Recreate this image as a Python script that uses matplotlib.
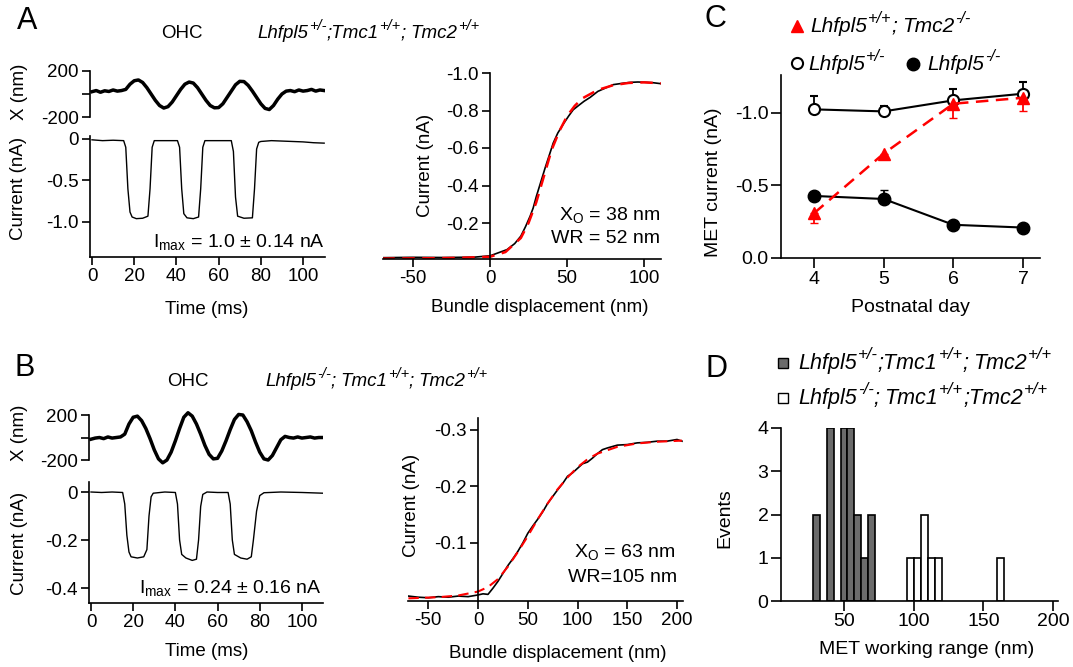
import matplotlib
matplotlib.use('Agg')
import matplotlib.pyplot as plt

plt.rcParams['font.family'] = ['Liberation Sans', 'DejaVu Sans']
plt.rcParams['axes.unicode_minus'] = False
plt.rcParams['mathtext.fontset'] = 'custom'
plt.rcParams['mathtext.rm'] = 'Liberation Sans'
plt.rcParams['mathtext.it'] = 'Liberation Sans:italic'
plt.rcParams['mathtext.default'] = 'rm'

# ---------------- data ----------------
# A: bundle displacement trace (nm) and MET current (nA) vs time (ms)
t_x = list(range(0, 112, 2))
a_x = [20, 30, 15, 28, 22, 35, 25, 30, 40, 85, 115, 122, 100, 55, 0, -55, -100, -122,
       -110, -70, -15, 40, 85, 104, 95, 55, 0, -55, -100, -120, -118, -85, -30, 25, 80,
       110, 108, 75, 25, -30, -85, -125, -135, -100, -45, 0, 25, 30, 20, 35, 25, 30, 40,
       25, 35, 30]
a_t_i = [0, 5, 10, 15, 16, 17, 18, 19, 21, 24, 26.5, 27.5, 28.5, 29.5, 35, 40.5, 41.5,
         42.5, 43.5, 45, 48, 50.5, 51.5, 52.5, 53.5, 60, 66, 67, 68, 69, 72, 76, 77, 78,
         79, 80, 85, 90, 95, 100, 105, 110]
a_i = [-0.01, -0.02, -0.015, -0.02, -0.1, -0.6, -0.88, -0.94, -0.96, -0.955, -0.93, -0.6,
       -0.1, -0.02, -0.02, -0.02, -0.1, -0.6, -0.9, -0.95, -0.96, -0.94, -0.6, -0.1, -0.02,
       -0.02, -0.02, -0.15, -0.7, -0.93, -0.955, -0.95, -0.6, -0.12, -0.04, -0.03, -0.02,
       -0.025, -0.03, -0.035, -0.045, -0.05]

# A: current-displacement relation and fit
a_disp = [-70, -50, -30, -10, 0, 5, 11, 16, 20, 23, 26, 28, 30, 33, 36, 39, 41, 44, 48,
          51, 54, 58, 61, 65, 70, 75, 80, 86, 91, 96, 102, 106, 111]
a_cur = [-0.015, -0.017, -0.016, -0.018, -0.025, -0.04, -0.058, -0.09, -0.13, -0.18,
         -0.236, -0.28, -0.34, -0.42, -0.5, -0.575, -0.626, -0.68, -0.733, -0.77, -0.804,
         -0.83, -0.849, -0.87, -0.902, -0.92, -0.938, -0.945, -0.95, -0.952, -0.95,
         -0.948, -0.943]
a_fit_x = [-70, -40, -20, 0, 10, 20, 25, 30, 35, 40, 45, 50, 55, 60, 70, 80, 90, 100, 111]
a_fit_y = [-0.01, -0.012, -0.014, -0.02, -0.045, -0.12, -0.2, -0.31, -0.45, -0.59, -0.69,
           -0.77, -0.825, -0.865, -0.91, -0.935, -0.947, -0.95, -0.945]

# B: bundle displacement trace and MET current vs time
b_x = [-15, -5, 0, -10, 5, -5, 0, 5, 30, 120, 180, 190, 150, 80, -10, -110, -190, -225,
       -200, -130, -30, 80, 180, 220, 190, 120, 30, -70, -150, -190, -185, -120, -30, 70,
       160, 205, 200, 140, 60, -40, -130, -190, -200, -160, -90, -20, 10, 0, -5, 5, -5, 0,
       5, -5, 0, 0]
b_t_i = [0, 5, 10, 15, 16, 17, 18, 19, 22, 25, 26.5, 27.5, 28.5, 29.5, 35, 40, 41, 42,
         43, 45, 48, 50, 51, 52, 53, 55, 60, 65, 66, 67, 68, 71, 74, 76, 77, 78.5, 80, 82,
         90, 100, 110]
b_i = [0.0, -0.002, 0.0, -0.002, -0.05, -0.18, -0.25, -0.27, -0.275, -0.27, -0.24, -0.1,
       -0.02, -0.005, 0.0, -0.002, -0.05, -0.2, -0.26, -0.275, -0.285, -0.28, -0.2, -0.06,
       -0.01, 0.0, -0.002, -0.002, -0.05, -0.2, -0.26, -0.275, -0.28, -0.27, -0.2, -0.08,
       -0.015, -0.003, 0.0, -0.002, -0.005]

# B: current-displacement relation and fit
b_disp = [-70, -60, -50, -40, -30, -20, -10, 0, 5, 10, 15, 20, 25, 30, 35, 40, 45, 50, 55,
          60, 65, 70, 75, 80, 85, 90, 95, 100, 105, 110, 115, 120, 125, 130, 140, 150, 160,
          170, 180, 190, 200, 205]
b_cur = [-0.006, -0.004, -0.003, -0.005, -0.004, -0.006, -0.005, -0.008, -0.01, -0.009,
         -0.02, -0.032, -0.046, -0.06, -0.072, -0.085, -0.1, -0.117, -0.13, -0.142, -0.155,
         -0.17, -0.182, -0.194, -0.205, -0.218, -0.224, -0.232, -0.24, -0.243, -0.25,
         -0.258, -0.265, -0.268, -0.273, -0.274, -0.277, -0.278, -0.28, -0.28, -0.283, -0.28]
b_fit_x = [-70, -40, -20, 0, 10, 20, 30, 40, 50, 60, 70, 80, 90, 100, 110, 120, 140, 160,
           180, 205]
b_fit_y = [-0.002, -0.004, -0.007, -0.014, -0.022, -0.036, -0.058, -0.084, -0.112, -0.142,
           -0.17, -0.195, -0.216, -0.234, -0.248, -0.258, -0.27, -0.276, -0.279, -0.281]

# C: MET current vs postnatal day
days = [4, 5, 6, 7]
het = [-1.025, -1.011, -1.087, -1.133]
het_err = [0.09, 0.04, 0.08, 0.08]
ko = [-0.428, -0.407, -0.229, -0.21]
ko_err = [0.02, 0.06, 0.02, 0.02]
tmc2ko = [-0.309, -0.72, -1.064, -1.105]
tmc2ko_err = [0.07, 0.03, 0.1, 0.09]

# D: histogram of working ranges (bin centres, counts)
het_bins = [30, 40, 50, 55, 60, 65, 70]
het_counts = [2, 4, 4, 4, 2, 1, 2]
ko_bins = [97.5, 102.5, 107.5, 112.5, 117.5, 162.5]
ko_counts = [1, 1, 2, 1, 1, 1]
bin_w = 5

# genotype labels: (text, superscript)
geno_a = [('Lhfpl5', '+/-'), (';Tmc1', '+/+'), ('; Tmc2', '+/+')]
geno_b = [('Lhfpl5', '-/-'), ('; Tmc1', '+/+'), ('; Tmc2', '+/+')]
geno_d2 = [('Lhfpl5', '-/-'), ('; Tmc1', '+/+'), (';Tmc2', '+/+')]
geno_tmc2 = [('Lhfpl5', '+/+'), ('; Tmc2', '-/-')]
geno_het = [('Lhfpl5', '+/-')]
geno_ko = [('Lhfpl5', '-/-')]

# ---------------- figure ----------------
W, H = 1073, 667
fig = plt.figure(figsize=(W / 100, H / 100), dpi=100)
renderer = fig.canvas.get_renderer()


def px_axes(x0, y0, x1, y1):
    return fig.add_axes([x0 / W, 1 - y1 / H, (x1 - x0) / W, (y1 - y0) / H])


def style(ax, fs=13.5, tl=6):
    for s in ['top', 'right']:
        ax.spines[s].set_visible(False)
    for s in ['left', 'bottom']:
        ax.spines[s].set_linewidth(1.2)
    ax.tick_params(direction='out', length=tl, width=1.2, labelsize=fs, pad=2)
    ax.patch.set_alpha(0)


# A: displacement trace
ax = px_axes(90, 65, 325, 123)
ax.plot(t_x, a_x, color='red', lw=1.2)
ax.plot(t_x, a_x, color='black', lw=2.5)
ax.set_xlim(-0.95, 110.4)
ax.set_ylim(-252, 252)
style(ax)
ax.spines['bottom'].set_visible(False)
ax.spines['left'].set_bounds(-200, 200)
ax.set_xticks([])
ax.set_yticks([200, 0, -200])
ax.set_yticklabels(['200', '', '-200'])

# A: current trace
ax = px_axes(90, 136, 325, 257)
ax.plot(a_t_i, a_i, color='black', lw=1.0)
ax.set_xlim(-0.95, 110.4)
ax.set_ylim(-1.422, 0.036)
style(ax)
ax.set_yticks([0, -0.5, -1.0])
ax.set_yticklabels(['0', '-0.5', '-1.0'])
ax.set_xticks([0, 20, 40, 60, 80, 100])

# A: I-X curve
ax = px_axes(383, 73, 661, 259)
ax.plot(a_disp, a_cur, color='black', lw=1.2)
ax.plot(a_fit_x, a_fit_y, color='red', lw=1.8, ls=(0, (5, 3)))
ax.set_xlim(-69.5, 111)
ax.set_ylim(-0.008, -1.0)
style(ax)
ax.spines['left'].set_position(('data', 0))
ax.set_yticks([-1.0, -0.8, -0.6, -0.4, -0.2])
ax.set_yticklabels(['-1.0', '-0.8', '-0.6', '-0.4', '-0.2'])
ax.set_xticks([-50, 0, 50, 100])

# B: displacement trace
ax = px_axes(89, 405, 323, 468)
ax.plot(t_x, b_x, color='red', lw=1.2)
ax.plot(t_x, b_x, color='black', lw=2.5)
ax.set_xlim(-0.95, 110)
ax.set_ylim(-271, 289)
style(ax)
ax.spines['bottom'].set_visible(False)
ax.spines['left'].set_bounds(-200, 200)
ax.set_xticks([])
ax.set_yticks([200, 0, -200])
ax.set_yticklabels(['200', '', '-200'])

# B: current trace
ax = px_axes(89, 482, 323, 603)
ax.plot(b_t_i, b_i, color='black', lw=1.0)
ax.set_xlim(-0.95, 110)
ax.set_ylim(-0.4625, 0.0417)
style(ax)
ax.set_yticks([0, -0.2, -0.4])
ax.set_yticklabels(['0', '-0.2', '-0.4'])
ax.set_xticks([0, 20, 40, 60, 80, 100])

# B: I-X curve
ax = px_axes(408, 418, 683, 601)
ax.plot(b_disp, b_cur, color='black', lw=1.2)
ax.plot(b_fit_x, b_fit_y, color='red', lw=1.5, ls=(0, (5, 3)))
ax.set_xlim(-70.4, 206)
ax.set_ylim(0.0027, -0.321)
style(ax)
ax.spines['left'].set_position(('data', 0))
ax.set_yticks([-0.3, -0.2, -0.1])
ax.set_yticklabels(['-0.3', '-0.2', '-0.1'])
ax.set_xticks([-50, 0, 50, 100, 150, 200])

# C: MET current vs day
ax = px_axes(781, 75, 1040, 258)
ax.errorbar(days, het, yerr=[het_err, [0] * 4], color='black', lw=1.5, marker='o',
            ms=8, mfc='white', mec='black', mew=1.5, capsize=3, elinewidth=1.3, zorder=3)
ax.errorbar(days, ko, yerr=[ko_err, [0] * 4], color='black', lw=1.5, marker='o',
            ms=9, mfc='black', mec='black', capsize=3, elinewidth=1.3, zorder=3)
ax.errorbar(days, tmc2ko, yerr=[[0] * 4, tmc2ko_err], color='red', lw=1.8,
            ls=(0, (5, 3)), marker='^', ms=9, mfc='red', mec='red', capsize=3,
            elinewidth=1.3, zorder=4)
ax.set_xlim(3.526, 7.244)
ax.set_ylim(0, -1.262)
style(ax, fs=14, tl=7)
ax.set_xticks(days)
ax.set_yticks([0.0, -0.5, -1.0])
ax.set_yticklabels(['0.0', '-0.5', '-1.0'])

# D: histogram
ax = px_axes(781, 428, 1058, 601)
ax.bar(het_bins, het_counts, width=bin_w, color='#6b6b6b', edgecolor='black', lw=1.2)
ax.bar(ko_bins, ko_counts, width=bin_w, color='white', edgecolor='black', lw=1.2)
ax.set_xlim(4.78, 203.6)
ax.set_ylim(0, 4)
style(ax, fs=14, tl=7)
ax.set_xticks([50, 100, 150, 200])
ax.set_yticks([0, 1, 2, 3, 4])

# ---------------- overlay for labels ----------------
ov = fig.add_axes([0, 0, 1, 1])
ov.set_xlim(0, W)
ov.set_ylim(H, 0)
ov.axis('off')


def txt(x, y, s, fs=13.5, **kw):
    return ov.text(x, y, s, fontsize=fs, **kw)


def geno(x, y, parts, fs):
    # italic gene names with raised allele superscripts, placed piece by piece
    for name, sup in parts:
        if name.startswith('; '):
            t = txt(x, y, ';', fs=fs, style='italic', va='baseline')
            x += t.get_window_extent(renderer).width + fs * 0.3
            name = name[2:]
        t = txt(x, y, name, fs=fs, style='italic', va='baseline')
        x += t.get_window_extent(renderer).width + 1
        t = txt(x, y - fs * 0.62, sup, fs=fs * 0.78, style='italic', va='baseline')
        x += t.get_window_extent(renderer).width


for letter, (x, y) in zip('ABCD', [(27, 21), (25, 368), (715, 19), (717, 369)]):
    txt(x, y, letter, fs=22, ha='center', va='center')

txt(182, 38, 'OHC', fs=13.5, ha='center', va='baseline')
geno(257, 38, geno_a, 13.5)
txt(188, 386, 'OHC', fs=13.5, ha='center', va='baseline')
geno(265, 386, geno_b, 13.5)

# axis labels
txt(20, 92, 'X (nm)', ha='center', va='center', rotation=90)
txt(19, 188, 'Current (nA)', ha='center', va='center', rotation=90)
txt(207, 309, 'Time (ms)', ha='center', va='center')
txt(425, 165, 'Current (nA)', ha='center', va='center', rotation=90)
txt(540, 307, 'Bundle displacement (nm)', ha='center', va='center')
txt(20, 433, 'X (nm)', ha='center', va='center', rotation=90)
txt(20, 543, 'Current (nA)', ha='center', va='center', rotation=90)
txt(207, 652, 'Time (ms)', ha='center', va='center')
txt(411, 505, 'Current (nA)', ha='center', va='center', rotation=90)
txt(558, 653, 'Bundle displacement (nm)', ha='center', va='center')
txt(713, 182, 'MET current (nA)', fs=14, ha='center', va='center', rotation=90)
txt(910, 307, 'Postnatal day', fs=14, ha='center', va='center')
txt(725, 518, 'Events', fs=14, ha='center', va='center', rotation=90)
txt(927, 650, 'MET working range (nm)', fs=14, ha='center', va='center')

# annotations
txt(325, 247, r'I$_\mathrm{max}$ = 1.0 ± 0.14 nA', fs=14, ha='right', va='baseline')
txt(322, 593, r'I$_\mathrm{max}$ = 0.24 ± 0.16 nA', fs=14, ha='right', va='baseline')
txt(660, 220, r'X$_\mathrm{O}$ = 38 nm', fs=14, ha='right', va='baseline')
txt(660, 243, 'WR = 52 nm', fs=14, ha='right', va='baseline')
txt(675, 557, r'X$_\mathrm{O}$ = 63 nm', fs=14, ha='right', va='baseline')
txt(677, 582, 'WR=105 nm', fs=14, ha='right', va='baseline')

# C legend
ov.plot([797], [26], marker='^', ms=9, color='red', ls='none')
geno(810, 32, geno_tmc2, 15)
ov.plot([797], [63], marker='o', ms=8, mfc='white', mec='black', mew=1.5, ls='none')
geno(808, 70, geno_het, 15)
ov.plot([913], [64], marker='o', ms=9, color='black', ls='none')
geno(927, 70, geno_ko, 15)

# D legend
ov.plot([783], [363], marker='s', ms=7.5, mfc='#6b6b6b', mec='black', mew=1, ls='none')
geno(798, 369, geno_a, 15.5)
ov.plot([783], [398], marker='s', ms=7.5, mfc='white', mec='black', mew=1, ls='none')
geno(798, 404, geno_d2, 15.5)

fig.savefig('out.png', dpi=100)
